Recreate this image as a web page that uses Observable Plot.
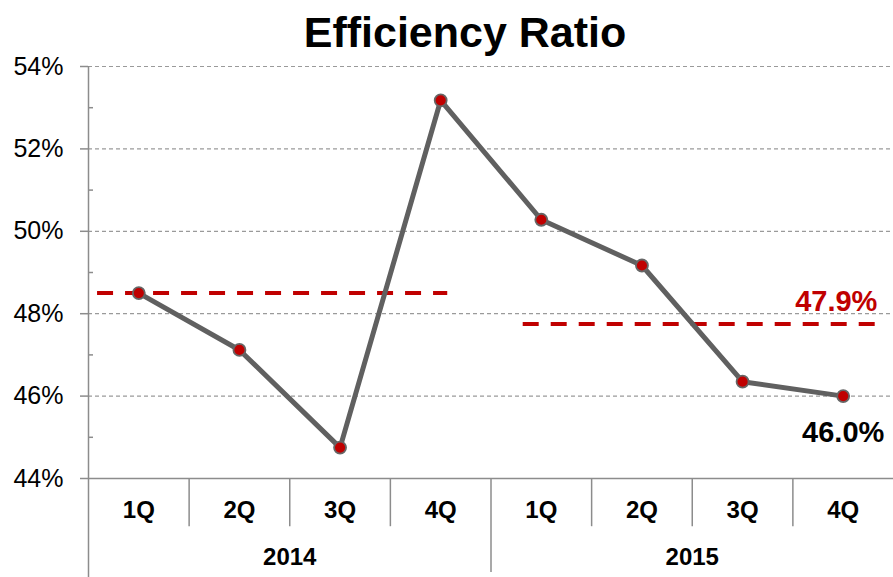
<!DOCTYPE html>
<html>
<head>
<meta charset="utf-8">
<script src="https://cdn.jsdelivr.net/npm/d3@7"></script>
<script src="https://cdn.jsdelivr.net/npm/@observablehq/plot@0.6"></script>
<style>
  html, body { margin: 0; padding: 0; background: #fff; }
  body { width: 893px; height: 577px; overflow: hidden; font-family: "Liberation Sans", Arial, sans-serif; }
  #title { height: 56px; line-height: 64px; font-size: 43px; font-weight: bold; text-align: center; padding-left: 37px; box-sizing: border-box; color: #000; white-space: nowrap; }
  #chart svg { display: block; }
</style>
</head>
<body>
<div id="title">Efficiency Ratio</div>
<div id="chart"></div>
<script>
// ---- data ----
const quarters = ["1Q", "2Q", "3Q", "4Q", "1Q", "2Q", "3Q", "4Q"];
const years = ["2014", "2015"];
const ratio = [48.5, 47.12, 44.75, 53.18, 50.28, 49.17, 46.35, 46.0];
const yearAverages = [48.5, 47.75];
const averageLabels = [null, "47.9%"];
const lastLabel = "46.0%";
const majorTicks = [44, 46, 48, 50, 52, 54];
const minorTicks = [45, 47, 49, 51, 53];
// average lines span (in quarter units along the x axis)
const avgStart = [0.09, 4.32];
const avgEnd = [3.57, 7.82];

const points = ratio.map((v, i) => ({i: i + 0.5, q: quarters[i], v}));
const avgs = yearAverages.map((v, k) => ({v, x1: avgStart[k], x2: avgEnd[k], label: averageLabels[k]}));
const yearData = years.map((y, k) => ({y, x: k * 4 + 2}));
const sepMinor = [1, 2, 3, 5, 6, 7];
const sepYear = [4];

const red = "#c00000";
const axisGray = "#8c8c8c";

const chart = Plot.plot({
  width: 893,
  height: 521,
  marginTop: 10,
  marginBottom: 99,
  marginLeft: 88,
  marginRight: 0,
  style: {fontFamily: "Liberation Sans, Arial, sans-serif", background: "transparent", overflow: "visible"},
  x: {domain: [0, 8], axis: null, label: null},
  y: {domain: [44, 54], axis: null, label: null},
  marks: [
    Plot.gridY(majorTicks.filter(d => d > 44), {stroke: "#9a9a9a", strokeOpacity: 1, strokeWidth: 1.2, strokeDasharray: "4,3"}),
    Plot.axisY({ticks: majorTicks, label: null, tickSize: 8, tickPadding: 17, tickFormat: d => d + "%", fontSize: 25, stroke: axisGray, strokeWidth: 1.5, fill: "#000"}),
    Plot.axisY({ticks: minorTicks, label: null, tickSize: -5, tickFormat: () => "", stroke: axisGray, strokeWidth: 1.5}),
    Plot.ruleY([44], {stroke: axisGray, strokeWidth: 1.5}),
    Plot.ruleX([0], {y1: 54, y2: 41.6, stroke: axisGray, strokeWidth: 1.5}),
    Plot.ruleX(sepMinor, {y1: 44, y2: 42.83, stroke: axisGray, strokeWidth: 1.5}),
    Plot.ruleX(sepYear, {y1: 44, y2: 41.72, stroke: axisGray, strokeWidth: 1.5}),
    Plot.text(points, {x: "i", y: () => 44, dy: 32, text: "q", fontSize: 24, fontWeight: "bold", fill: "#000"}),
    Plot.text(yearData, {x: "x", y: () => 44, dy: 79, text: "y", fontSize: 24, fontWeight: "bold", fill: "#000"}),
    Plot.ruleY(avgs, {y: "v", x1: "x1", x2: "x2", stroke: red, strokeWidth: 4, strokeDasharray: "16,12"}),
    Plot.line(points, {x: "i", y: "v", stroke: "#606060", strokeWidth: 5, strokeLinejoin: "round"}),
    Plot.dot(points, {x: "i", y: "v", r: 6, fill: red, stroke: "#666", strokeWidth: 1.8}),
    Plot.text(avgs.filter(d => d.label), {x: "x2", y: "v", text: "label", textAnchor: "end", dy: -22, dx: 2, fontSize: 29, fontWeight: "bold", fill: red}),
    Plot.text(points.slice(-1), {x: "i", y: "v", text: () => lastLabel, dy: 37, fontSize: 29, fontWeight: "bold", fill: "#000"})
  ]
});
document.getElementById("chart").appendChild(chart);
</script>
</body>
</html>
